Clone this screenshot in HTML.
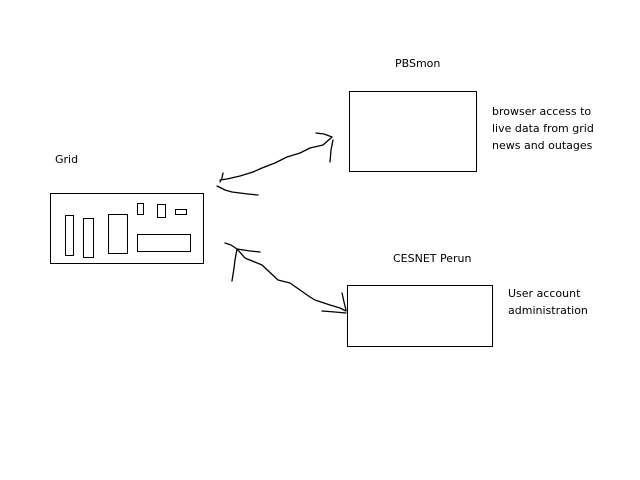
<!DOCTYPE html>
<html><head><style>html,body{margin:0;padding:0;background:#fff;width:640px;height:480px;overflow:hidden}</style></head>
<body>
<svg width="640" height="480" xmlns="http://www.w3.org/2000/svg" style="display:block">
<g fill="none" stroke="#000" stroke-width="1">
<rect x="50.5" y="193.5" width="153" height="70"/>
<rect x="65.5" y="215.5" width="8" height="40"/>
<rect x="83.5" y="218.5" width="10" height="39"/>
<rect x="108.5" y="214.5" width="19" height="39"/>
<rect x="137.5" y="203.5" width="6" height="11"/>
<rect x="157.5" y="204.5" width="8" height="13"/>
<rect x="175.5" y="209.5" width="11" height="5"/>
<rect x="137.5" y="234.5" width="53" height="17"/>
<rect x="349.5" y="91.5" width="127" height="80"/>
<rect x="347.5" y="285.5" width="145" height="61"/>
</g>
<g fill="none" stroke="#000" stroke-width="1.3" stroke-linejoin="round" stroke-linecap="round">
<polyline points="332,137 323,145 310,148 300,153 287,157 275,163 262,168 253,172 240,176 227,179 220,180"/>
<polyline points="316,133 324,134 332,137"/>
<polyline points="333,140 331,150 330,162"/>
<polyline points="223,173 222,178 220,182"/>
<polyline points="217,186 225,190 232,192 248,194 258,195"/>
<polyline points="237,249 245,258 262,265 278,280 290,283 300,290 310,297 315,300 330,305 340,308 346,311"/>
<polyline points="225,243 231,245 237,249 250,251 260,252"/>
<polyline points="237,249 235,260 234,268 232,281"/>
<polyline points="342,293 344,302 346,310"/>
<polyline points="322,311 335,312 346,313"/>
</g>
<g font-family="DejaVu Sans, Liberation Sans, sans-serif" font-size="11" fill="#000">
<text x="55" y="163">Grid</text>
<text x="395" y="67">PBSmon</text>
<text x="492" y="115">browser access to</text>
<text x="492" y="132">live data from grid</text>
<text x="492" y="149">news and outages</text>
<text x="393" y="262">CESNET Perun</text>
<text x="508" y="297">User account</text>
<text x="508" y="314">administration</text>
</g>
</svg>
</body></html>
